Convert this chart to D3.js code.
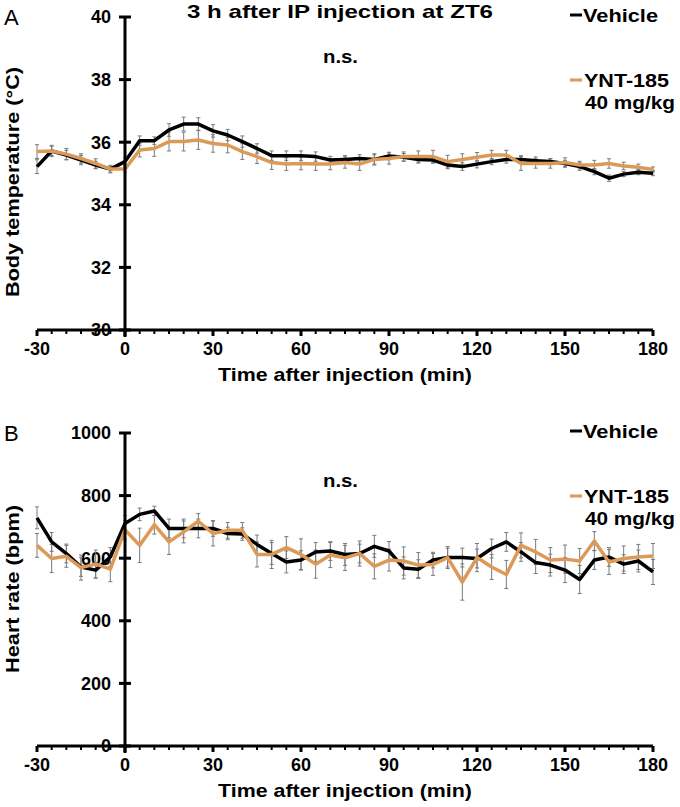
<!DOCTYPE html>
<html>
<head>
<meta charset="utf-8">
<script src="https://cdn.jsdelivr.net/npm/d3@7"></script>
<style>
  body { margin: 0; background: #fff; }
  svg text { font-family: "Liberation Sans", Arial, sans-serif; }
</style>
</head>
<body>
<svg id="chart" width="680" height="807"></svg>
<script>
// time points (min after injection), every 5 min
var times = d3.range(-30, 181, 5);

var xTicks = [-30, 0, 30, 60, 90, 120, 150, 180];
var tempTicks = [30, 32, 34, 36, 38, 40];
var hrTicks = [0, 200, 400, 600, 800, 1000];

// Panel A: body temperature (deg C)
var tempVehicle = [35.22, 35.72, 35.59, 35.43, 35.27, 35.14, 35.38, 36.05, 36.05, 36.39, 36.58, 36.58, 36.36, 36.23,
  36.02, 35.80, 35.57, 35.57, 35.57, 35.54, 35.43, 35.45, 35.48, 35.45, 35.56, 35.52, 35.45, 35.43, 35.27, 35.22,
  35.30, 35.38, 35.45, 35.45, 35.41, 35.38, 35.32, 35.22, 35.06, 34.85, 34.98, 35.04, 35.01];
var tempYnt = [35.70, 35.72, 35.62, 35.48, 35.32, 35.14, 35.14, 35.75, 35.80, 36.02, 36.02, 36.07, 35.96, 35.91,
  35.70, 35.54, 35.35, 35.30, 35.32, 35.30, 35.30, 35.35, 35.30, 35.45, 35.48, 35.54, 35.54, 35.54, 35.38, 35.45,
  35.52, 35.59, 35.59, 35.32, 35.32, 35.32, 35.35, 35.27, 35.27, 35.32, 35.24, 35.20, 35.13];
var tempVehicleSem = [0.22, 0.15, 0.15, 0.15, 0.12, 0.10, 0.12, 0.15, 0.12, 0.20, 0.22, 0.20, 0.20, 0.18,
  0.18, 0.15, 0.15, 0.15, 0.15, 0.15, 0.12, 0.12, 0.12, 0.15, 0.12, 0.12, 0.12, 0.10, 0.12, 0.12,
  0.12, 0.10, 0.12, 0.12, 0.12, 0.10, 0.10, 0.12, 0.10, 0.10, 0.08, 0.08, 0.08];
var tempYntSem = [0.22, 0.18, 0.18, 0.15, 0.15, 0.12, 0.10, 0.22, 0.25, 0.30, 0.30, 0.30, 0.28, 0.25,
  0.25, 0.22, 0.22, 0.20, 0.20, 0.20, 0.18, 0.18, 0.20, 0.18, 0.18, 0.15, 0.18, 0.20, 0.20, 0.18,
  0.15, 0.15, 0.15, 0.22, 0.15, 0.15, 0.15, 0.12, 0.15, 0.15, 0.12, 0.10, 0.08];

// Panel B: heart rate (bpm)
var hrVehicle = [729, 652, 615, 572, 562, 604, 711, 740, 751, 695, 695, 695, 695, 679,
  677, 644, 615, 588, 594, 620, 623, 612, 615, 638, 623, 569, 565, 594, 602, 602,
  599, 631, 652, 620, 586, 578, 562, 532, 594, 604, 581, 591, 556];
var hrYnt = [641, 599, 606, 570, 581, 565, 691, 641, 707, 652, 684, 718, 679, 689,
  689, 612, 612, 634, 612, 581, 610, 601, 615, 574, 594, 591, 578, 580, 602, 524,
  602, 572, 548, 641, 620, 594, 597, 591, 655, 588, 599, 604, 607];
var hrVehicleSem = [35, 30, 30, 30, 25, 30, 25, 20, 15, 30, 30, 30, 25, 20,
  20, 30, 35, 35, 30, 30, 30, 35, 30, 35, 30, 35, 30, 25, 30, 30,
  30, 30, 30, 30, 35, 35, 40, 45, 30, 30, 30, 35, 40];
var hrYntSem = [38, 45, 35, 40, 45, 40, 30, 55, 30, 40, 35, 25, 40, 25,
  25, 40, 45, 35, 50, 45, 40, 40, 40, 40, 35, 45, 40, 35, 35, 58,
  45, 40, 45, 40, 40, 40, 45, 40, 30, 40, 40, 40, 40];

var colVehicle = "#000000";
var colYnt = "#dc9a58";

var svg = d3.select("#chart");

// text drawn wide like the original figure: fixed length, glyphs stretched
function wideText(sel, x, y, str, len, anchor) {
  return sel.append("text").attr("x", x).attr("y", y)
    .attr("text-anchor", anchor || "start").attr("font-size", 19).attr("font-weight", "bold")
    .attr("textLength", len).attr("lengthAdjust", "spacingAndGlyphs")
    .text(str);
}

function drawPanel(cfg) {
  var x = d3.scaleLinear().domain([-30, 180]).range([37, 653]);
  var y = d3.scaleLinear().domain(cfg.domain).range([cfg.bottom, cfg.top]);
  var g = svg.append("g");

  // y tick labels (drawn first so the x axis sits over the lowest one)
  g.selectAll("text.ytl").data(cfg.yTicks).enter().append("text")
    .attr("x", 111).attr("y", function (d) { return y(d); }).attr("dy", "0.36em")
    .attr("text-anchor", "end").attr("font-size", 18).attr("font-weight", "bold")
    .text(function (d) { return d; });

  // error bars
  var series = [[cfg.vehicle, cfg.vehicleSem], [cfg.ynt, cfg.yntSem]];
  series.forEach(function (s) {
    var eb = g.append("g").attr("stroke", "#7a7a7a").attr("stroke-width", 1);
    times.forEach(function (t, i) {
      var cx = x(t), y1 = y(s[0][i] - s[1][i]), y2 = y(s[0][i] + s[1][i]);
      eb.append("line").attr("x1", cx).attr("x2", cx).attr("y1", y1).attr("y2", y2);
      eb.append("line").attr("x1", cx - 2).attr("x2", cx + 2).attr("y1", y1).attr("y2", y1);
      eb.append("line").attr("x1", cx - 2).attr("x2", cx + 2).attr("y1", y2).attr("y2", y2);
    });
  });

  var line = d3.line().x(function (d) { return x(d[0]); }).y(function (d) { return y(d[1]); });
  g.append("path").datum(d3.zip(times, cfg.vehicle))
    .attr("d", line).attr("fill", "none").attr("stroke", colVehicle).attr("stroke-width", 3.5)
    .attr("stroke-linejoin", "round");
  g.append("path").datum(d3.zip(times, cfg.ynt))
    .attr("d", line).attr("fill", "none").attr("stroke", colYnt).attr("stroke-width", 3.5)
    .attr("stroke-linejoin", "round");

  // y axis at x = 0
  var x0 = x(0);
  g.append("line").attr("x1", x0).attr("x2", x0).attr("y1", y(cfg.domain[1])).attr("y2", cfg.bottom + 7)
    .attr("stroke", "#000").attr("stroke-width", 3);
  g.selectAll("line.yt").data(cfg.yTicks).enter().append("line")
    .attr("x1", x0 - 6).attr("x2", x0 + 6)
    .attr("y1", function (d) { return y(d); }).attr("y2", function (d) { return y(d); })
    .attr("stroke", "#000").attr("stroke-width", 3);

  // x axis
  g.append("line").attr("x1", x(-30)).attr("x2", x(180)).attr("y1", cfg.bottom).attr("y2", cfg.bottom)
    .attr("stroke", "#000").attr("stroke-width", 3);
  g.selectAll("line.xt").data(d3.range(-30, 181, 5)).enter().append("line")
    .attr("x1", function (d) { return x(d); }).attr("x2", function (d) { return x(d); })
    .attr("y1", cfg.bottom).attr("y2", function (d) { return cfg.bottom + (d % 30 === 0 ? 6 : 4); })
    .attr("stroke", "#000").attr("stroke-width", function (d) { return d % 30 === 0 ? 3 : 2; });
  g.selectAll("text.xtl").data(xTicks).enter().append("text")
    .attr("x", function (d) { return x(d); }).attr("y", cfg.bottom + 25)
    .attr("text-anchor", "middle").attr("font-size", 18).attr("font-weight", "bold")
    .text(function (d) { return d; });

  wideText(g, 345, cfg.bottom + 51, "Time after injection (min)", 254, "middle");

  var yt = g.append("g").attr("transform", "translate(19," + cfg.titleY + ") rotate(-90)");
  wideText(yt, 0, 0, cfg.yTitle, cfg.yTitleLen, "middle");

  // panel letter
  g.append("text").attr("x", 4).attr("y", cfg.top + 8).attr("font-size", 22)
    .text(cfg.letter);

  // n.s.
  wideText(g, 323, cfg.nsY, "n.s.", 35);

  // legend
  g.append("line").attr("x1", 570).attr("x2", 582).attr("y1", cfg.legY - 7).attr("y2", cfg.legY - 7)
    .attr("stroke", colVehicle).attr("stroke-width", 3);
  wideText(g, 583, cfg.legY, "Vehicle", 75);
  g.append("line").attr("x1", 570).attr("x2", 582).attr("y1", cfg.legY + 58).attr("y2", cfg.legY + 58)
    .attr("stroke", colYnt).attr("stroke-width", 3);
  wideText(g, 584, cfg.legY + 65, "YNT-185", 85);
  wideText(g, 585, cfg.legY + 87, "40 mg/kg", 90);
}

drawPanel({
  domain: [30, 40], top: 17, bottom: 330, yTicks: tempTicks,
  vehicle: tempVehicle, ynt: tempYnt, vehicleSem: tempVehicleSem, yntSem: tempYntSem,
  yTitle: "Body temperature (\u00B0C)", yTitleLen: 230, titleY: 182, letter: "A", nsY: 63, legY: 22
});
drawPanel({
  domain: [0, 1000], top: 433, bottom: 746, yTicks: hrTicks,
  vehicle: hrVehicle, ynt: hrYnt, vehicleSem: hrVehicleSem, yntSem: hrYntSem,
  yTitle: "Heart rate (bpm)", yTitleLen: 168, titleY: 589, letter: "B", nsY: 487, legY: 438
});

wideText(svg, 340, 18, "3 h after IP injection at ZT6", 306, "middle");
</script>
</body>
</html>
